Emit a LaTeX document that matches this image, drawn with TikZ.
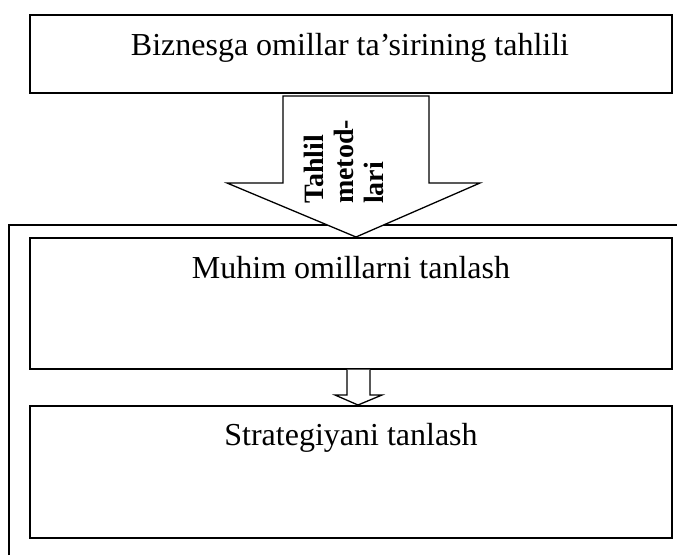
\documentclass[tikz,border=0pt]{standalone}
\usepackage{fontspec}
\setmainfont{Liberation Serif}
\begin{document}
\begin{tikzpicture}[x=1pt,y=-1pt,
		box/.style={draw, line width=1.6pt, minimum width=642pt},
		txt/.style={font=\fontsize{32}{36}\selectfont, anchor=base},
		blockarrow/.style={draw, line width=1.3pt, fill=white, line join=miter}]
	\useasboundingbox (0,0) rectangle (677,555);

	% frame round the lower part
	\draw[line width=1.2pt]	(9,555) -- (9,225) -- (677,225);

	\node[box, minimum height=78pt, anchor=north]	(analysis) at (351,14) {};
	\node[txt]	(analysistext) at (350,55) {Biznesga omillar ta’sirining tahlili};

	\node[box, minimum height=131pt, anchor=north]	(choice) at (351,237) {};
	\node[txt]	(choicetext) at (351,278) {Muhim omillarni tanlash};

	\node[box, minimum height=132pt, anchor=north]	(strategy) at (351,405) {};
	\node[txt]	(strategytext) at (351,445) {Strategiyani tanlash};

	% block arrows
	\draw[blockarrow]	(283,96) -- (283,183) -- (227,183) -- (choice.north -| 356,0)
						-- (480,183) -- (429,183) -- (429,96) -- cycle;
	\node[rotate=90, align=left, inner sep=0pt, font=\bfseries\fontsize{28}{30}\selectfont]
		(methods) at (344,162) {Tahlil\\metod-\\lari};

	\draw[blockarrow]	(choice.south -| 347,0) -- (347,395) -- (335,395) -- (strategy.north -| 358,0)
						-- (382,395) -- (370,395) -- (choice.south -| 370,0);
\end{tikzpicture}
\end{document}
